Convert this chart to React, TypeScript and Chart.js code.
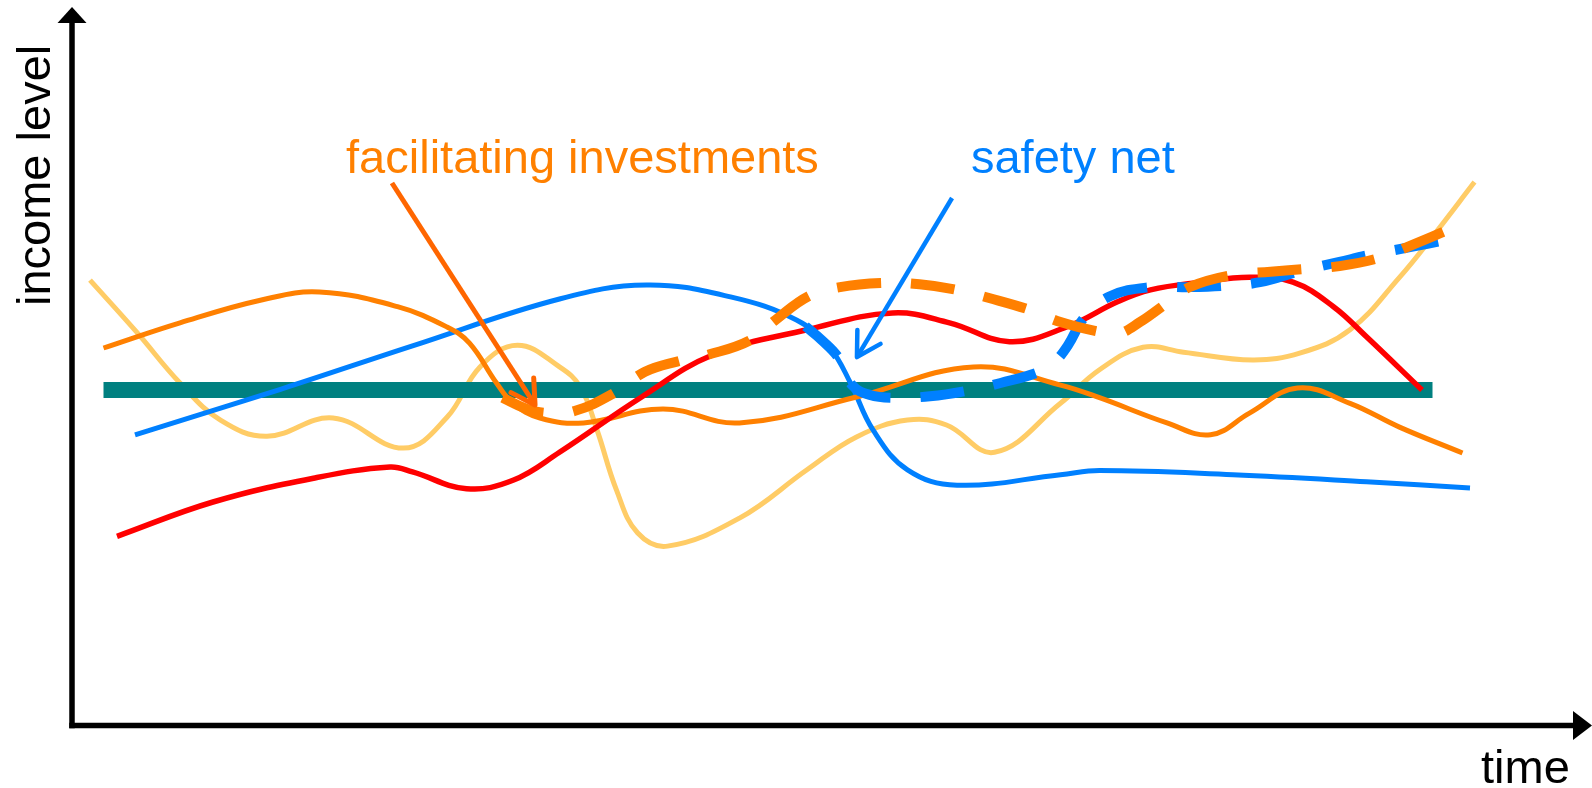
import React, { useEffect, useRef } from "react";
import { Chart, registerables } from "chart.js";

Chart.register(...registerables);

// Conceptual scale: time 0..100, income level 0..100
const X_MIN = 0;
const X_MAX = 100;
const Y_MIN = 0;
const Y_MAX = 100;

// Volatile income path (light orange)
const volatileX = [1.2, 4.3, 7.2, 9.9, 13.0, 17.4, 22.1, 25.0, 27.2, 29.7, 32.5, 33.9, 35.0, 36.3, 37.7, 39.7, 44.5, 49.0, 52.3, 55.7, 58.3, 61.5, 65.9, 68.5, 71.4, 74.1, 78.7, 81.9, 85.2, 88.5, 90.7, 93.5];
const volatileY = [63.7, 56.3, 49.0, 43.7, 41.4, 44.0, 39.7, 44.1, 51.3, 54.4, 51.3, 48.4, 42.3, 33.7, 27.6, 25.7, 29.7, 36.6, 41.3, 43.7, 43.0, 39.1, 46.1, 50.9, 54.1, 53.4, 52.3, 53.3, 56.6, 64.1, 69.9, 77.7];

// Poverty line (teal)
const povertyX = [2.1, 90.7];
const povertyY = [48.0, 48.0];

// Orange solid path
const orangeX = [2.1, 7.2, 12.7, 16.5, 21.7, 25.0, 26.5, 28.3, 29.4, 31.2, 34.1, 39.4, 44.5, 52.3, 60.1, 65.9, 68.5, 73.0, 75.9, 78.5, 81.7, 85.2, 88.5, 92.7];
const orangeY = [54.0, 57.6, 60.9, 62.0, 59.9, 57.0, 54.7, 49.0, 46.1, 44.0, 43.3, 45.3, 43.3, 47.0, 51.3, 48.7, 46.9, 43.3, 41.6, 44.7, 48.3, 46.1, 42.7, 39.0];

// Blue solid path
const blueX = [4.2, 13.9, 22.7, 32.5, 38.3, 43.9, 48.3, 50.5, 51.9, 53.4, 55.7, 59.0, 65.9, 68.5, 77.4, 86.3, 93.2];
const blueY = [41.6, 48.1, 54.3, 61.0, 63.0, 61.3, 58.0, 54.1, 49.0, 42.3, 36.6, 34.4, 35.9, 36.5, 35.9, 34.9, 34.0];

// Red path
const redX = [3.0, 9.4, 16.1, 21.2, 22.7, 26.3, 29.4, 32.5, 37.9, 42.7, 49.0, 54.7, 58.5, 62.5, 66.3, 69.7, 71.9, 75.2, 78.5, 81.4, 84.1, 86.3, 90.0];
const redY = [27.1, 32.0, 35.4, 37.0, 36.3, 33.9, 35.1, 39.1, 46.9, 53.0, 56.6, 59.0, 57.6, 54.9, 57.0, 60.6, 62.3, 63.4, 64.1, 63.4, 59.9, 55.6, 48.0];

// Orange dashed path (with facilitated investments)
const investX = [28.7, 30.2, 31.7, 33.5, 36.0, 38.2, 40.4, 42.5, 45.2, 46.9, 49.1, 51.2, 53.9, 56.5, 59.0, 61.2, 63.9, 65.9, 68.5, 69.7, 71.2, 73.1, 74.5, 77.3, 79.9, 82.3, 84.5, 87.2, 89.2, 92.0];
const investY = [46.9, 45.4, 44.7, 45.0, 47.4, 50.6, 52.1, 53.1, 55.1, 58.0, 61.4, 62.7, 63.3, 63.1, 62.3, 61.1, 59.4, 57.7, 56.3, 56.0, 57.7, 60.6, 62.7, 64.4, 64.9, 65.3, 65.7, 66.9, 68.6, 71.1];

// Blue dashed path (with safety net)
const safetyX = [48.9, 50.0, 51.1, 52.0, 53.2, 54.7, 57.2, 59.7, 61.9, 64.5, 65.5, 66.4, 67.5, 69.2, 71.9, 74.5, 76.9, 79.2, 81.9, 84.5, 86.5, 89.2, 91.5];
const safetyY = [57.1, 55.1, 52.6, 48.7, 47.3, 46.9, 47.1, 47.9, 49.0, 50.6, 52.0, 54.4, 58.4, 61.4, 62.7, 62.7, 62.9, 63.4, 65.0, 66.3, 67.3, 68.4, 69.4];

// Annotations (data units)
const investLabel = { text: "facilitating investments", x: 18.27, y: 79.0 };
const investArrow = { from: [21.33, 77.57], to: [30.87, 45.86] };
const safetyLabel = { text: "safety net", x: 59.93, y: 79.0 };
const safetyArrow = { from: [58.67, 75.43], to: [52.33, 52.71] };

const FONT = '"Liberation Sans", Arial, Helvetica, sans-serif';

function pts(xs: number[], ys: number[]) {
  return xs.map((x, i) => ({ x, y: ys[i] }));
}

function drawArrow(ctx: CanvasRenderingContext2D, x1: number, y1: number, x2: number, y2: number, color: string, width: number) {
  ctx.save();
  ctx.strokeStyle = color;
  ctx.lineWidth = width;
  ctx.lineCap = "butt";
  ctx.lineJoin = "round";
  ctx.beginPath();
  ctx.moveTo(x1, y1);
  ctx.lineTo(x2, y2);
  ctx.stroke();
  const ang = Math.atan2(y1 - y2, x1 - x2);
  const len = 27;
  const spread = Math.PI / 6;
  ctx.lineCap = "round";
  ctx.beginPath();
  ctx.moveTo(x2 + len * Math.cos(ang + spread), y2 + len * Math.sin(ang + spread));
  ctx.lineTo(x2, y2);
  ctx.lineTo(x2 + len * Math.cos(ang - spread), y2 + len * Math.sin(ang - spread));
  ctx.stroke();
  ctx.restore();
}

const overlayPlugin = {
  id: "overlay",
  afterDraw(chart: any) {
    const ctx: CanvasRenderingContext2D = chart.ctx;
    const xs = chart.scales.x;
    const ys = chart.scales.y;
    const px = (v: number) => xs.getPixelForValue(v);
    const py = (v: number) => ys.getPixelForValue(v);
    const area = chart.chartArea;
    ctx.save();

    // axes with arrow heads
    const ox = px(X_MIN);
    const oy = py(Y_MIN) - 0.5;
    ctx.strokeStyle = "#000";
    ctx.fillStyle = "#000";
    ctx.lineWidth = 5.5;
    ctx.lineCap = "butt";
    ctx.beginPath();
    ctx.moveTo(ox, oy + 2.75);
    ctx.lineTo(ox, area.top - 4);
    ctx.stroke();
    ctx.beginPath();
    ctx.moveTo(ox - 2.75, oy);
    ctx.lineTo(area.right + 2, oy);
    ctx.stroke();
    // y arrow head
    ctx.beginPath();
    ctx.moveTo(ox, area.top - 19);
    ctx.lineTo(ox - 14.5, area.top - 3);
    ctx.lineTo(ox + 14.5, area.top - 3);
    ctx.closePath();
    ctx.fill();
    // x arrow head
    ctx.beginPath();
    ctx.moveTo(area.right + 20, oy);
    ctx.lineTo(area.right + 1, oy - 14.5);
    ctx.lineTo(area.right + 1, oy + 14.5);
    ctx.closePath();
    ctx.fill();

    // axis titles
    ctx.font = `47px ${FONT}`;
    ctx.textBaseline = "alphabetic";
    ctx.textAlign = "left";
    ctx.fillText("time", 1481, 783);
    ctx.save();
    ctx.translate(50, 306);
    ctx.rotate(-Math.PI / 2);
    ctx.fillText("income level", 0, 0);
    ctx.restore();

    // annotations
    ctx.fillStyle = "#FF8000";
    ctx.fillText(investLabel.text, px(investLabel.x), py(investLabel.y));
    ctx.fillStyle = "#0080FF";
    ctx.fillText(safetyLabel.text, px(safetyLabel.x), py(safetyLabel.y));

    drawArrow(ctx, px(investArrow.from[0]), py(investArrow.from[1]), px(investArrow.to[0]), py(investArrow.to[1]), "#FF6600", 5);
    drawArrow(ctx, px(safetyArrow.from[0]), py(safetyArrow.from[1]), px(safetyArrow.to[0]), py(safetyArrow.to[1]), "#0080FF", 4.5);

    ctx.restore();
  },
};

export default function App() {
  const canvasRef = useRef<HTMLCanvasElement | null>(null);

  useEffect(() => {
    if (!canvasRef.current) return;
    const common = {
      fill: false,
      pointRadius: 0,
      pointHoverRadius: 0,
      tension: 0.4,
      borderCapStyle: "butt" as const,
      borderJoinStyle: "round" as const,
      clip: false as const,
    };
    const chart = new Chart(canvasRef.current, {
      type: "line",
      data: {
        datasets: [
          { ...common, label: "investments", data: pts(investX, investY), borderColor: "#FF8000", borderWidth: 10, borderDash: [44, 30], order: 0 },
          { ...common, label: "safety net", data: pts(safetyX, safetyY), borderColor: "#0080FF", borderWidth: 10, borderDash: [44, 30], order: 1 },
          { ...common, label: "red", data: pts(redX, redY), borderColor: "#FF0000", borderWidth: 5.5, order: 2 },
          { ...common, label: "orange", data: pts(orangeX, orangeY), borderColor: "#FF8000", borderWidth: 5, order: 3 },
          { ...common, label: "blue", data: pts(blueX, blueY), borderColor: "#0080FF", borderWidth: 5, order: 4 },
          { ...common, label: "poverty line", data: pts(povertyX, povertyY), borderColor: "#008080", borderWidth: 16, order: 5 },
          { ...common, label: "volatile", data: pts(volatileX, volatileY), borderColor: "#FFCC66", borderWidth: 5, order: 6 },
        ] as any,
      },
      options: {
        animation: false,
        responsive: false,
        devicePixelRatio: 1,
        layout: { padding: { left: 72, right: 20, top: 26, bottom: 62 } },
        plugins: { legend: { display: false }, tooltip: { enabled: false } },
        events: [],
        scales: {
          x: { type: "linear", min: X_MIN, max: X_MAX, display: false },
          y: { type: "linear", min: Y_MIN, max: Y_MAX, display: false },
        },
      },
      plugins: [overlayPlugin],
    });
    return () => chart.destroy();
  }, []);

  return (
    <div style={{ position: "fixed", left: 0, top: 0, width: 1592, height: 788, background: "#fff" }}>
      <canvas ref={canvasRef} width={1592} height={788} style={{ display: "block" }} />
    </div>
  );
}
